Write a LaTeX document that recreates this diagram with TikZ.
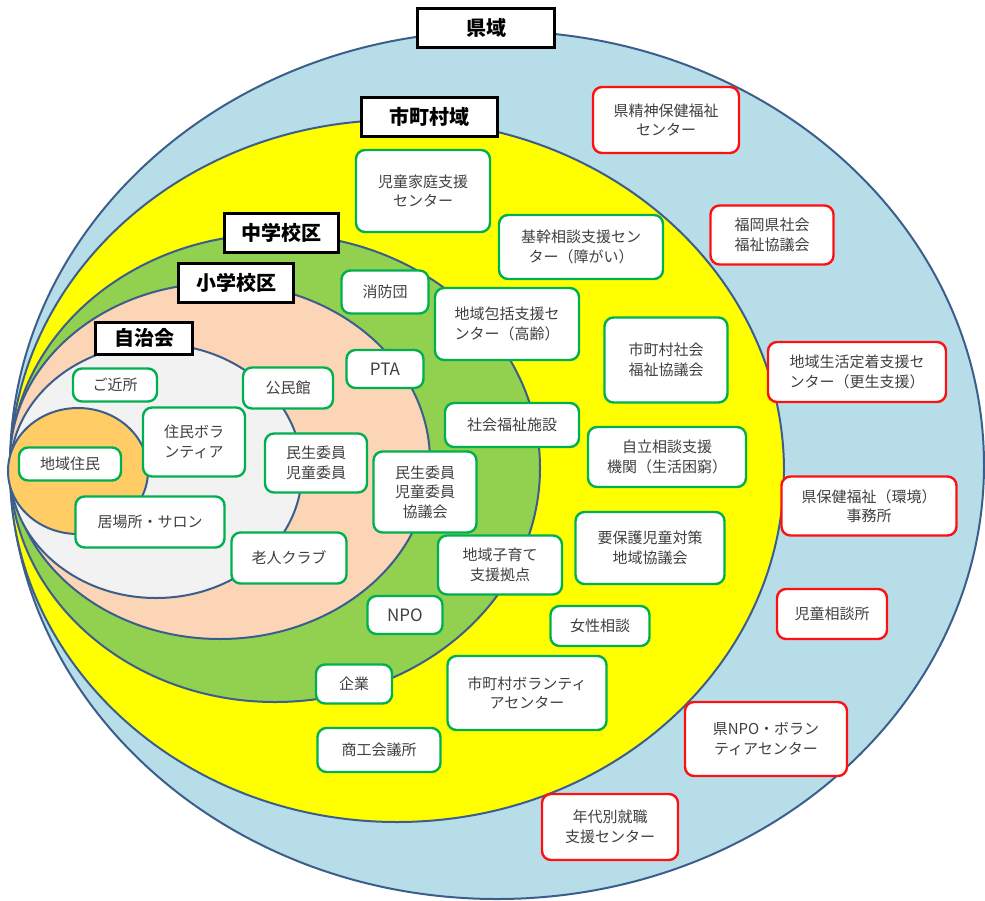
\documentclass[tikz,border=0pt]{standalone}
\usepackage{fontspec}
\setmainfont{Noto Sans CJK JP}
\definecolor{areablue}{HTML}{B7DEE8}
\definecolor{areayellow}{HTML}{FFFF00}
\definecolor{areagreen}{HTML}{92D050}
\definecolor{areapeach}{HTML}{FBD5B5}
\definecolor{areagray}{HTML}{F2F2F2}
\definecolor{areaorange}{HTML}{FFCC66}
\definecolor{ringedge}{HTML}{3B5E8C}
\definecolor{boxgreen}{HTML}{00B050}
\definecolor{boxred}{HTML}{FF1010}
\definecolor{txtgray}{HTML}{404040}
\tikzset{
  ring/.style={draw=ringedge, line width=2pt},
  box/.style={fill=white, rounded corners=9pt, line width=2.4pt, align=center,
    font=\fontsize{15}{19.5}\selectfont, text=txtgray, inner sep=0pt},
  gbox/.style={box, draw=boxgreen},
  rbox/.style={box, draw=boxred},
  area/.style={fill=white, draw=black, line width=3pt, inner sep=0pt,
    font=\fontsize{20}{24}\selectfont\bfseries, text=black},
  sz/.style 2 args={minimum width=#1pt, minimum height=#2pt},
}
\begin{document}
\begin{tikzpicture}[x=1pt, y=-1pt]
\useasboundingbox (0,0) rectangle (985,900);

% nested areas, all touching at the left
\draw[ring, fill=areablue]   (497,465) ellipse [x radius=487pt, y radius=434pt];
\draw[ring, fill=areayellow] (397,471) ellipse [x radius=387pt, y radius=351pt];
\draw[ring, fill=areagreen]  (275,468) ellipse [x radius=265pt, y radius=234pt];
\draw[ring, fill=areapeach]  (220,461) ellipse [x radius=210pt, y radius=178pt];
\draw[ring, fill=areagray]   (156,471) ellipse [x radius=146pt, y radius=127pt];
\draw[ring, fill=areaorange] (78,471)  ellipse [x radius=70pt,  y radius=63pt];

% area titles
\node[area, sz={137}{39}] (ken)   at (486,28)  {県域};
\node[area, sz={136}{39}] (shi)   at (429,117) {市町村域};
\node[area, sz={114}{39}] (chu)   at (281,233) {中学校区};
\node[area, sz={115}{39}] (sho)   at (236,283) {小学校区};
\node[area, sz={97}{32}]  (jichi) at (144,338) {自治会};

% municipal and school-district bodies
\node[gbox, sz={134}{82}]  (jidou)   at (423,191) {児童家庭支援\\センター};
\node[gbox, sz={164}{64}]  (kikan)   at (581,247) {基幹相談支援セン\\ター（障がい）};
\node[gbox, sz={87}{43}]   (shobo)   at (385,292) {消防団};
\node[gbox, sz={144}{72}]  (houkatsu) at (507,324) {地域包括支援セ\\ンター（高齢）};
\node[gbox, sz={123}{85}]  (shakyo)  at (666,360) {市町村社会\\福祉協議会};
\node[gbox, sz={77}{38}, font=\fontsize{17}{20}\selectfont] (pta) at (385,369) {PTA};
\node[gbox, sz={134}{44}]  (shisetsu) at (512,425) {社会福祉施設};
\node[gbox, sz={158}{60}]  (jiritsu) at (667,457) {自立相談支援\\機関（生活困窮）};
\node[gbox, sz={103}{81}]  (minkyo)  at (425,492) {民生委員\\児童委員\\協議会};
\node[gbox, sz={124}{59}]  (kosodate) at (500,565) {地域子育て\\支援拠点};
\node[gbox, sz={149}{72}]  (yohogo)  at (650,548) {要保護児童対策\\地域協議会};
\node[gbox, sz={99}{40}]   (josei)   at (600,626) {女性相談};
\node[gbox, sz={75}{38}, font=\fontsize{17}{20}\selectfont] (npo) at (405,615) {NPO};
\node[gbox, sz={76}{39}]   (kigyo)   at (354,684) {企業};
\node[gbox, sz={159}{74}]  (shivol)  at (527,693) {市町村ボランティ\\アセンター};
\node[gbox, sz={123}{44}]  (shoko)   at (379,750) {商工会議所};

% neighbourhood bodies
\node[gbox, sz={84}{33}]   (kinjo)   at (115,385) {ご近所};
\node[gbox, sz={90}{41}]   (kominkan) at (288,388) {公民館};
\node[gbox, sz={102}{69}]  (juvol)   at (194,442) {住民ボラ\\ンティア};
\node[gbox, sz={102}{33}]  (jumin)   at (70,464)  {地域住民};
\node[gbox, sz={102}{59}]  (minsei)  at (316,463) {民生委員\\児童委員};
\node[gbox, sz={149}{51}]  (ibasho)  at (150,522) {居場所・サロン};
\node[gbox, sz={115}{51}]  (rojin)   at (289,558) {老人クラブ};

% prefectural bodies
\node[rbox, sz={146}{66}]  (seishin) at (666,120) {県精神保健福祉\\センター};
\node[rbox, sz={123}{59}]  (fkshakyo) at (772,235) {福岡県社会\\福祉協議会};
\node[rbox, sz={178}{60}]  (teichaku) at (857,372) {地域生活定着支援セ\\ンター（更生支援）};
\node[rbox, sz={175}{59}]  (hoken)   at (869,506) {県保健福祉（環境）\\事務所};
\node[rbox, sz={110}{50}]  (jisou)   at (832,614) {児童相談所};
\node[rbox, sz={162}{74}]  (kennpo)  at (766,739) {県NPO・ボラン\\ティアセンター};
\node[rbox, sz={136}{66}]  (shushoku) at (610,827) {年代別就職\\支援センター};
\end{tikzpicture}
\end{document}
